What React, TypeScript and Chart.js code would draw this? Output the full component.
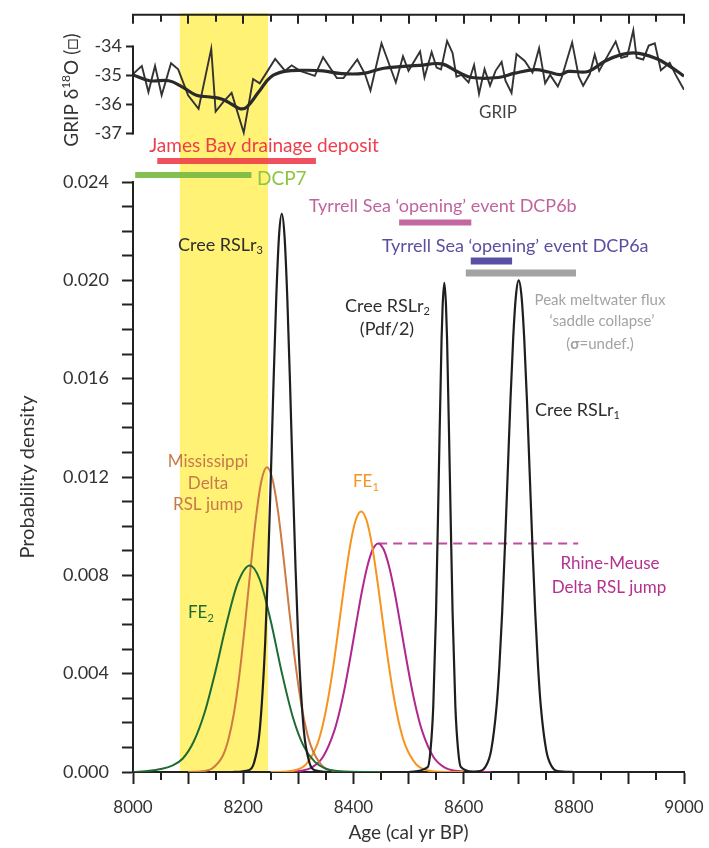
import React, { useEffect, useRef } from 'react';
import { Chart, registerables } from 'chart.js';
Chart.register(...registerables);

const FAMILY = 'Lato, "Open Sans", "DejaVu Sans", sans-serif';

// ---------- GRIP δ18O (top panel) ----------
const gripAges = [8000, 8016, 8028, 8040, 8052, 8069, 8082, 8100, 8119, 8142, 8150, 8164, 8179, 8201, 8218, 8230, 8258, 8276, 8288, 8303, 8330, 8345, 8370, 8382, 8407, 8421, 8431, 8451, 8477, 8490, 8500, 8521, 8529, 8542, 8551, 8559, 8570, 8580, 8587, 8596, 8609, 8619, 8628, 8638, 8648, 8658, 8669, 8676, 8687, 8696, 8711, 8725, 8737, 8748, 8757, 8771, 8778, 8797, 8809, 8817, 8829, 8838, 8846, 8876, 8886, 8897, 8908, 8914, 8926, 8936, 8947, 8958, 8974, 8985, 9000];
const gripValues = [-34.95, -34.67, -35.57, -34.67, -35.68, -34.58, -34.79, -35.68, -36.15, -34.08, -36.24, -35.91, -35.6, -36.97, -35.12, -35.27, -34.43, -34.84, -34.65, -34.84, -35.01, -34.37, -35.09, -35.09, -34.45, -34.95, -35.52, -33.89, -35.24, -34.34, -34.84, -34.17, -35.07, -34.19, -34.73, -34.79, -33.81, -34.23, -35.04, -34.98, -35.24, -34.64, -35.63, -34.78, -35.35, -34.84, -34.53, -35.18, -35.6, -34.26, -34.5, -34.9, -34.06, -35.27, -34.98, -35.38, -35.07, -33.86, -35.04, -35.35, -34.95, -34.28, -34.84, -33.83, -34.39, -34.34, -33.44, -34.39, -34.45, -33.97, -33.89, -34.82, -34.56, -34.98, -35.49];
const gripSmoothAges = [8000, 8030, 8065, 8090, 8115, 8140, 8162, 8180, 8195, 8207, 8228, 8250, 8275, 8310, 8345, 8375, 8418, 8455, 8520, 8560, 8590, 8615, 8663, 8693, 8730, 8754, 8775, 8790, 8826, 8857, 8886, 8908, 8929, 8959, 9000];
const gripSmoothValues = [-34.98, -35.18, -35.18, -35.4, -35.68, -35.74, -35.82, -36.0, -36.15, -36.08, -35.57, -35.05, -34.86, -34.82, -34.84, -34.93, -34.93, -34.75, -34.65, -34.6, -34.88, -35.07, -35.07, -34.92, -34.8, -34.88, -34.97, -34.86, -34.86, -34.5, -34.28, -34.22, -34.28, -34.5, -35.02];

// ---------- Probability densities (bottom panel) ----------
const fe2Ages = [8000, 8030, 8050, 8070, 8090, 8110, 8130, 8150, 8170, 8190, 8212, 8230, 8250, 8270, 8290, 8310, 8330, 8350, 8380, 8450];
const fe2Density = [0, 0.00005, 0.00012, 0.00025, 0.00054, 0.00123, 0.00242, 0.00413, 0.00606, 0.00768, 0.0084, 0.00783, 0.00614, 0.00405, 0.00224, 0.00104, 0.00041, 0.00013, 0.00002, 0];

const missAges = [8100, 8130, 8143, 8163, 8173, 8183, 8193, 8203, 8213, 8223, 8233, 8243, 8253, 8263, 8273, 8283, 8293, 8303, 8313, 8323, 8343, 8363, 8400];
const missDensity = [0, 0.00004, 0.00013, 0.00066, 0.00131, 0.00237, 0.00393, 0.00595, 0.0082, 0.01032, 0.01184, 0.0124, 0.01193, 0.01063, 0.00876, 0.00669, 0.00472, 0.00309, 0.00187, 0.00105, 0.00026, 0.00005, 0];

const fe1Ages = [8250, 8274, 8294, 8314, 8334, 8344, 8354, 8364, 8374, 8384, 8394, 8404, 8414, 8424, 8434, 8444, 8454, 8464, 8474, 8484, 8494, 8514, 8534, 8554, 8600];
const fe1Density = [0, 0.00001, 0.00007, 0.00031, 0.0011, 0.00187, 0.00297, 0.00438, 0.00602, 0.0077, 0.0092, 0.01023, 0.0106, 0.01023, 0.0092, 0.0077, 0.00602, 0.00438, 0.00297, 0.00187, 0.0011, 0.00031, 0.00007, 0.00001, 0];

const rhineAges = [8260, 8285, 8305, 8325, 8345, 8365, 8375, 8385, 8395, 8405, 8415, 8425, 8435, 8445, 8455, 8465, 8475, 8485, 8495, 8505, 8515, 8525, 8545, 8565, 8585, 8605, 8650];
const rhineDensity = [0, 0.00001, 0.00005, 0.00019, 0.00062, 0.00165, 0.00247, 0.00351, 0.00473, 0.00603, 0.00729, 0.00834, 0.00905, 0.0093, 0.00905, 0.00834, 0.00729, 0.00603, 0.00473, 0.00351, 0.00247, 0.00165, 0.00062, 0.00019, 0.00005, 0.00001, 0];
const rhineJumpAges = [8445, 8808];
const rhineJumpLevel = 0.0093;

const rslr3Ages = [8180, 8210, 8220, 8230, 8240, 8245, 8250, 8255, 8260, 8265, 8270, 8275, 8280, 8285, 8290, 8295, 8300, 8310, 8320, 8330, 8360];
const rslr3Density = [0, 0.00007, 0.0004, 0.0017, 0.0053, 0.0083, 0.0119, 0.0158, 0.0193, 0.0218, 0.0227, 0.0218, 0.0193, 0.0158, 0.0119, 0.0083, 0.0053, 0.0017, 0.0004, 0.00007, 0];

const rslr2Ages = [8500, 8535, 8540, 8545, 8550, 8555, 8560, 8562, 8565, 8568, 8570, 8575, 8580, 8585, 8590, 8595, 8620];
const rslr2Density = [0, 0.0002, 0.0009, 0.0027, 0.0065, 0.0121, 0.0176, 0.019, 0.0199, 0.019, 0.0176, 0.0121, 0.0065, 0.0027, 0.0009, 0.0002, 0];

const rslr1Ages = [8600, 8630, 8640, 8650, 8660, 8665, 8670, 8675, 8680, 8685, 8690, 8695, 8700, 8705, 8710, 8715, 8720, 8725, 8730, 8735, 8740, 8750, 8760, 8770, 8800];
const rslr1Density = [0, 0.00004, 0.00022, 0.00088, 0.00271, 0.00433, 0.00649, 0.00916, 0.01213, 0.0151, 0.01765, 0.01938, 0.02, 0.01938, 0.01765, 0.0151, 0.01213, 0.00916, 0.00649, 0.00433, 0.00271, 0.00088, 0.00022, 0.00004, 0];

// ---------- Event ranges (cal yr BP) ----------
const yellowBand = [8085, 8245];
const eventStart = [8044, 8004, 8483, 8613, 8604];
const eventEnd = [8332, 8215, 8614, 8688, 8804];

// ---------- Ticks ----------
const ageTicks = [8000, 8100, 8200, 8300, 8400, 8500, 8600, 8700, 8800, 8900, 9000];
const ageMinorTicks = [8050, 8150, 8250, 8350, 8450, 8550, 8650, 8750, 8850, 8950];
const ageLabels = [8000, 8200, 8400, 8600, 8800, 9000];
const densityTicks = [0, 0.001, 0.002, 0.003, 0.004, 0.005, 0.006, 0.007, 0.008, 0.009, 0.01, 0.011, 0.012, 0.013, 0.014, 0.015, 0.016, 0.017, 0.018, 0.019, 0.02, 0.021, 0.022, 0.023, 0.024];
const densityLabels = [0, 0.004, 0.008, 0.012, 0.016, 0.02, 0.024];
const gripTicks = [-37, -36, -35, -34];

// ---------- styles ----------
const eventStyle = [
  { color: 'rgba(236,52,66,0.85)', y: 161, h: 6 },
  { color: 'rgba(120,186,66,0.92)', y: 175, h: 6 },
  { color: '#c2699f', y: 222.5, h: 6 },
  { color: '#5a50a3', y: 261, h: 7 },
  { color: '#a3a3a3', y: 273, h: 7 },
];

type Part = { t: string; sub?: boolean; sup?: boolean; bold?: boolean };

function partFont(p: Part, size: number) {
  const s = p.sub || p.sup ? Math.round(size * 0.62) : size;
  return `${p.bold ? 'bold ' : ''}${s}px ${FAMILY}`;
}

function drawRich(ctx: CanvasRenderingContext2D, parts: Part[], x: number, y: number, size: number, color: string, align: 'left' | 'center' | 'right') {
  ctx.save();
  ctx.fillStyle = color;
  ctx.textBaseline = 'middle';
  ctx.textAlign = 'left';
  let w = 0;
  for (const p of parts) {
    ctx.font = partFont(p, size);
    w += ctx.measureText(p.t).width;
  }
  let cx = align === 'left' ? x : align === 'center' ? x - w / 2 : x - w;
  for (const p of parts) {
    ctx.font = partFont(p, size);
    const dy = p.sub ? size * 0.32 : p.sup ? -size * 0.32 : 0;
    ctx.fillText(p.t, cx, y + dy);
    cx += ctx.measureText(p.t).width;
  }
  ctx.restore();
}

const pairs = (xs: number[], ys: number[]) => xs.map((x, i) => ({ x, y: ys[i] }));

function curve(label: string, xs: number[], ys: number[], color: string, width = 2) {
  return {
    label,
    data: pairs(xs, ys),
    borderColor: color,
    borderWidth: width,
    pointRadius: 0,
    fill: false,
    cubicInterpolationMode: 'monotone' as const,
  };
}

const bottomPlugin = {
  id: 'bottomDecor',
  beforeDatasetsDraw(chart: any) {
    const { ctx, scales, chartArea } = chart;
    const x = scales.x;
    const x0 = x.getPixelForValue(yellowBand[0]);
    const x1 = x.getPixelForValue(yellowBand[1]);
    ctx.save();
    ctx.fillStyle = '#fff275';
    ctx.fillRect(x0, 13, x1 - x0, chartArea.bottom - 1 - 13);
    ctx.restore();
  },
  afterDatasetsDraw(chart: any) {
    const { ctx, scales, chartArea } = chart;
    const x = scales.x;
    ctx.save();
    // minor x ticks
    ctx.strokeStyle = '#222';
    ctx.lineWidth = 2;
    for (const v of ageMinorTicks) {
      const px = Math.round(x.getPixelForValue(v));
      ctx.beginPath();
      ctx.moveTo(px, chartArea.bottom);
      ctx.lineTo(px, chartArea.bottom + 8);
      ctx.stroke();
    }
    // event bars
    eventStart.forEach((s, i) => {
      const a = x.getPixelForValue(s);
      const b = x.getPixelForValue(eventEnd[i]);
      const st = eventStyle[i];
      ctx.fillStyle = st.color;
      ctx.fillRect(a, st.y - st.h / 2, b - a, st.h);
    });
    ctx.restore();

    const dark = '#2e2e2e';
    drawRich(ctx, [{ t: 'James Bay drainage deposit' }], 264, 146, 19, '#ee3e4c', 'center');
    drawRich(ctx, [{ t: 'DCP7' }], 257, 179, 19, '#8cc63f', 'left');
    drawRich(ctx, [{ t: 'Tyrrell Sea \u2018opening\u2019 event DCP6b' }], 309, 206, 18, '#c0649c', 'left');
    drawRich(ctx, [{ t: 'Tyrrell Sea \u2018opening\u2019 event DCP6a' }], 382, 246, 18, '#5a4ea1', 'left');
    drawRich(ctx, [{ t: 'Peak meltwater flux' }], 600, 300, 15, '#a3a3a3', 'center');
    drawRich(ctx, [{ t: '\u2018saddle collapse\u2019' }], 602, 321, 15, '#a3a3a3', 'center');
    drawRich(ctx, [{ t: '(' }, { t: '\u03c3', bold: true }, { t: '=undef.)' }], 600, 344, 15, '#a3a3a3', 'center');
    drawRich(ctx, [{ t: 'Cree RSLr' }, { t: '3', sub: true }], 178, 245, 18, dark, 'left');
    drawRich(ctx, [{ t: 'Cree RSLr' }, { t: '2', sub: true }], 345, 306, 18, dark, 'left');
    drawRich(ctx, [{ t: '(Pdf/2)' }], 387, 329, 18, dark, 'center');
    drawRich(ctx, [{ t: 'Cree RSLr' }, { t: '1', sub: true }], 535, 410, 18, dark, 'left');
    const miss = '#c67a4c';
    drawRich(ctx, [{ t: 'Mississippi' }], 208, 462, 17, miss, 'center');
    drawRich(ctx, [{ t: 'Delta' }], 208, 484, 17, miss, 'center');
    drawRich(ctx, [{ t: 'RSL jump' }], 208, 505, 17, miss, 'center');
    drawRich(ctx, [{ t: 'FE' }, { t: '1', sub: true }], 353, 482, 17, '#f7941d', 'left');
    drawRich(ctx, [{ t: 'FE' }, { t: '2', sub: true }], 188, 613, 17, '#1e6b34', 'left');
    drawRich(ctx, [{ t: 'Rhine-Meuse' }], 610, 564, 17, '#b5318f', 'center');
    drawRich(ctx, [{ t: 'Delta RSL jump' }], 609, 588, 17, '#b5318f', 'center');
  },
};

const topPlugin = {
  id: 'topDecor',
  afterDraw(chart: any) {
    const { ctx, scales, chartArea } = chart;
    const x = scales.x;
    const y = scales.y;
    ctx.save();
    ctx.strokeStyle = '#222';
    ctx.lineWidth = 2;
    // top axis line with inward ticks
    const top = chartArea.top;
    ctx.beginPath();
    ctx.moveTo(x.getPixelForValue(8000) - 1, top);
    ctx.lineTo(x.getPixelForValue(9000) + 1, top);
    ctx.stroke();
    for (const v of ageTicks) {
      const px = Math.round(x.getPixelForValue(v));
      ctx.beginPath();
      ctx.moveTo(px, top);
      ctx.lineTo(px, top + 9);
      ctx.stroke();
    }
    for (const v of ageMinorTicks) {
      const px = Math.round(x.getPixelForValue(v));
      ctx.beginPath();
      ctx.moveTo(px, top);
      ctx.lineTo(px, top + 7);
      ctx.stroke();
    }
    // left axis segment between -34 and -37
    const lx = chartArea.left;
    ctx.beginPath();
    ctx.moveTo(lx, y.getPixelForValue(gripTicks[3]) - 1);
    ctx.lineTo(lx, y.getPixelForValue(gripTicks[0]) + 1);
    ctx.stroke();
    ctx.restore();

    // rotated y title
    ctx.save();
    ctx.translate(72, 90);
    ctx.rotate(-Math.PI / 2);
    drawRich(ctx, [{ t: 'GRIP \u03b4' }, { t: '18', sup: true }, { t: 'O (\u25a1)' }], 0, 0, 19, '#333', 'center');
    ctx.restore();

    drawRich(ctx, [{ t: 'GRIP' }], 498, 113, 17, '#444', 'center');
  },
};

export default function App() {
  const bottomRef = useRef<HTMLCanvasElement>(null);
  const topRef = useRef<HTMLCanvasElement>(null);

  useEffect(() => {
    const tickFont = { family: FAMILY, size: 18 };
    const bottom = new Chart(bottomRef.current as HTMLCanvasElement, {
      type: 'line',
      data: {
        datasets: [
          curve('Cree RSLr3', rslr3Ages, rslr3Density, '#1e1e1e', 2.2),
          curve('Cree RSLr2', rslr2Ages, rslr2Density, '#1e1e1e', 2.2),
          curve('Cree RSLr1', rslr1Ages, rslr1Density, '#1e1e1e', 2.2),
          curve('FE2', fe2Ages, fe2Density, '#1e6b34', 2),
          curve('Mississippi Delta RSL jump', missAges, missDensity, '#cd7a45', 2),
          curve('FE1', fe1Ages, fe1Density, '#f7941d', 2),
          curve('Rhine-Meuse Delta RSL jump', rhineAges, rhineDensity, '#b0288f', 2),
          {
            label: 'Rhine-Meuse level',
            data: rhineJumpAges.map((a) => ({ x: a, y: rhineJumpLevel })),
            borderColor: '#c24aa3',
            borderWidth: 2,
            borderDash: [9, 6],
            pointRadius: 0,
            fill: false,
          } as any,
        ],
      },
      options: {
        responsive: false,
        animation: false,
        devicePixelRatio: 1,
        layout: { padding: { left: 0, right: 25, top: 182, bottom: 0 } },
        plugins: { legend: { display: false }, tooltip: { enabled: false } },
        scales: {
          x: {
            type: 'linear',
            min: 8000,
            max: 9000,
            position: 'bottom',
            afterBuildTicks: (s: any) => {
              s.ticks = ageTicks.map((v) => ({ value: v }));
            },
            afterFit: (s: any) => {
              s.height = 76;
              s.paddingLeft = 0;
              s.paddingRight = 0;
            },
            ticks: {
              callback: (v: any) => (ageLabels.includes(Number(v)) ? String(v) : ''),
              font: { family: FAMILY, size: 17 },
              color: '#333',
              padding: 13,
              maxRotation: 0,
              autoSkip: false,
            },
            grid: { drawOnChartArea: false, drawTicks: true, tickLength: 12, tickWidth: 2, tickColor: '#222' },
            border: { display: true, color: '#222', width: 2 },
            title: {
              display: true,
              text: 'Age (cal yr BP)',
              font: { family: FAMILY, size: 19 },
              color: '#333',
              padding: { top: 0, bottom: 4 },
            },
          },
          y: {
            type: 'linear',
            min: 0,
            max: 0.024,
            position: 'left',
            afterBuildTicks: (s: any) => {
              s.ticks = densityTicks.map((v) => ({ value: v }));
            },
            afterFit: (s: any) => {
              s.width = 133;
            },
            ticks: {
              callback: (v: any) => (densityLabels.some((l) => Math.abs(l - Number(v)) < 1e-9) ? Number(v).toFixed(3) : ''),
              font: tickFont,
              color: '#333',
              padding: 13,
              autoSkip: false,
            },
            grid: { drawOnChartArea: false, drawTicks: true, tickLength: 11, tickWidth: 2, tickColor: '#222' },
            border: { display: true, color: '#222', width: 2 },
            title: {
              display: true,
              text: 'Probability density',
              font: { family: FAMILY, size: 20 },
              color: '#333',
              padding: { top: 16, bottom: 0 },
            },
          },
        },
      },
      plugins: [bottomPlugin],
    } as any);

    const top = new Chart(topRef.current as HTMLCanvasElement, {
      type: 'line',
      data: {
        datasets: [
          {
            label: 'GRIP smooth',
            data: pairs(gripSmoothAges, gripSmoothValues),
            borderColor: '#2a2a2a',
            borderWidth: 3.2,
            pointRadius: 0,
            tension: 0.4,
            fill: false,
          },
          {
            label: 'GRIP',
            data: pairs(gripAges, gripValues),
            borderColor: '#333',
            borderWidth: 1.9,
            pointRadius: 0,
            tension: 0,
            fill: false,
          },
        ],
      },
      options: {
        responsive: false,
        animation: false,
        devicePixelRatio: 1,
        layout: { padding: { left: 0, right: 25, top: 13, bottom: 666 } },
        plugins: { legend: { display: false }, tooltip: { enabled: false } },
        scales: {
          x: { type: 'linear', min: 8000, max: 9000, display: false },
          y: {
            type: 'linear',
            min: -38.67,
            max: -32.909,
            position: 'left',
            afterBuildTicks: (s: any) => {
              s.ticks = gripTicks.map((v) => ({ value: v }));
            },
            afterFit: (s: any) => {
              s.width = 133;
            },
            ticks: { font: tickFont, color: '#333', padding: 4, autoSkip: false },
            grid: { drawOnChartArea: false, drawTicks: true, tickLength: 7, tickWidth: 2, tickColor: '#222' },
            border: { display: false },
          },
        },
      },
      plugins: [topPlugin],
    } as any);

    return () => {
      bottom.destroy();
      top.destroy();
    };
  }, []);

  const cs: React.CSSProperties = { position: 'absolute', left: 0, top: 0, width: 709, height: 848 };
  return (
    <div style={{ position: 'absolute', left: 0, top: 0, width: 709, height: 848, background: '#fff', overflow: 'hidden' }}>
      <canvas ref={bottomRef} width={709} height={848} style={cs} />
      <canvas ref={topRef} width={709} height={848} style={cs} />
    </div>
  );
}
